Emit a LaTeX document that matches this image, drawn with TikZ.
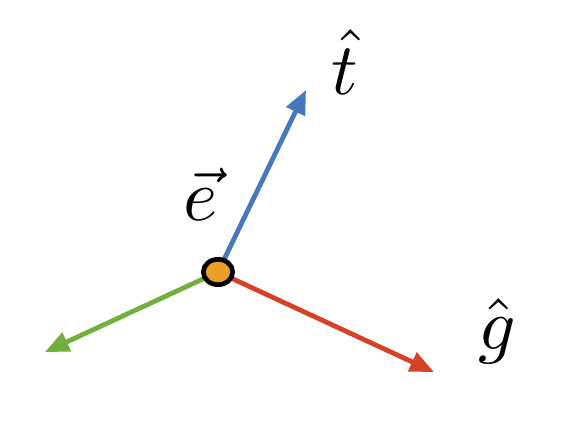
\documentclass[tikz,border=0pt]{standalone}
\usetikzlibrary{arrows.meta,shapes.geometric}
\begin{document}
\begin{tikzpicture}[x=0.75pt,y=-0.75pt,
  vec/.style={line width=3.6pt,-{Triangle[length=18pt,width=15pt]}},
  lbl/.style={inner sep=0pt,scale=5.5}]
\useasboundingbox (0,0) rectangle (570,428);
\coordinate (o) at (218,272);
\coordinate (tt) at (306,90);
\coordinate (gt) at (434,372);
\coordinate (ft) at (45,352);
\draw[vec,color={rgb,255:red,70;green,120;blue,190}] (o) -- (tt);
\draw[vec,color={rgb,255:red,215;green,65;blue,40}] (o) -- (gt);
\draw[vec,color={rgb,255:red,115;green,175;blue,60}] (o) -- (ft);
\node[ellipse,draw=black,line width=3.5pt,fill={rgb,255:red,235;green,160;blue,40},minimum width=22pt,minimum height=19pt,inner sep=0pt] (p) at (o) {};
\node[lbl] (e) at (201,194) {$\vec e$};
\node[lbl] (t) at (345,62) {$\hat t$};
\node[lbl] (g) at (497,331) {$\hat g$};
\end{tikzpicture}
\end{document}
